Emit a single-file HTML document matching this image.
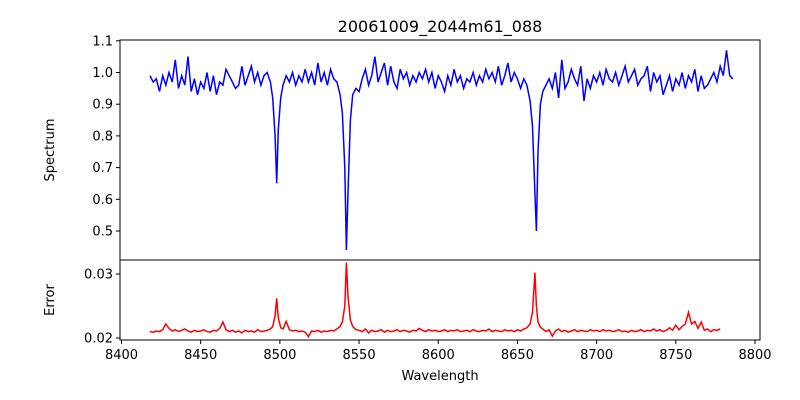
<!DOCTYPE html>
<html><head><meta charset="utf-8"><style>
body{margin:0;background:#fff}
svg{display:block;font-family:"DejaVu Sans","Liberation Sans",sans-serif}
</style></head><body>
<svg id="chart" width="800" height="400" xmlns="http://www.w3.org/2000/svg">
<rect width="800" height="400" fill="#fff"/>
<text x="440" y="32" font-size="16" text-anchor="middle">20061009_2044m61_088</text>
<g id="topPanel"></g>
<g id="botPanel"></g>
<text transform="translate(54,150) rotate(-90)" font-size="13" text-anchor="middle">Spectrum</text>
<text transform="translate(54,300) rotate(-90)" font-size="13" text-anchor="middle">Error</text>
<text x="440" y="380" font-size="13" text-anchor="middle">Wavelength</text>
</svg>
<script>
const wavelengths=[8418,8420,8422,8424,8426,8428,8430,8432,8434,8436,8438,8440,8442,8444,8446,8448,8450,8452,8454,8456,8458,8460,8462,8464,8466,8468,8470,8472,8474,8476,8478,8480,8482,8484,8486,8488,8490,8492,8494,8495.5,8497,8498,8499,8500.5,8502,8504,8506,8508,8510,8512,8514,8516,8518,8520,8522,8524,8526,8528,8530,8532,8534,8536,8538,8539.5,8541,8542,8543,8544.5,8546,8548,8550,8552,8554,8556,8558,8560,8562,8564,8566,8568,8570,8572,8574,8576,8578,8580,8582,8584,8586,8588,8590,8592,8594,8596,8598,8600,8602,8604,8606,8608,8610,8612,8614,8616,8618,8620,8622,8624,8626,8628,8630,8632,8634,8636,8638,8640,8642,8644,8646,8648,8650,8652,8654,8656,8658,8659.5,8661,8662,8663,8664.5,8666,8668,8670,8672,8674,8676,8678,8680,8682,8684,8686,8688,8690,8692,8694,8696,8698,8700,8702,8704,8706,8708,8710,8712,8714,8716,8718,8720,8722,8724,8726,8728,8730,8732,8734,8736,8738,8740,8742,8744,8746,8748,8750,8752,8754,8756,8758,8760,8762,8764,8766,8768,8770,8772,8774,8776,8778,8780,8782,8784,8786];
const flux=[0.99,0.97,0.98,0.94,0.99,0.96,1.00,0.97,1.04,0.95,0.99,0.96,1.05,0.94,0.98,0.93,0.97,0.95,1.00,0.94,0.99,0.93,0.97,0.96,1.01,0.99,0.97,0.95,0.96,1.02,0.96,0.99,1.02,0.97,1.00,0.96,0.99,1.00,0.97,0.92,0.80,0.65,0.82,0.92,0.96,0.99,0.97,1.00,0.96,0.99,0.97,1.01,0.97,1.00,0.96,1.03,0.97,1.00,0.96,1.01,0.98,0.97,0.93,0.87,0.70,0.44,0.62,0.85,0.93,0.95,0.94,0.98,1.01,0.96,0.99,1.05,0.97,1.00,1.03,0.96,1.02,0.97,0.95,1.01,0.98,1.00,0.96,0.99,0.97,1.00,0.98,1.01,0.97,1.00,0.95,0.99,0.97,0.94,0.99,0.96,1.01,0.97,0.99,0.95,0.98,0.97,1.00,0.96,0.99,0.97,1.01,0.98,1.00,0.97,1.02,0.96,0.99,1.03,0.97,1.00,0.98,0.95,0.98,0.96,0.91,0.83,0.62,0.50,0.75,0.90,0.94,0.96,0.98,0.95,1.00,0.92,1.04,0.95,0.97,1.01,0.98,0.96,1.02,0.91,0.98,0.95,0.99,0.97,1.00,0.96,1.01,0.98,0.97,1.00,0.96,0.99,1.02,0.97,0.99,1.01,0.96,0.98,0.99,1.02,0.94,1.00,0.97,0.99,0.93,0.96,0.99,0.94,0.98,0.96,1.00,0.95,0.99,0.97,1.01,0.94,0.99,0.95,0.96,0.98,1.00,0.97,1.02,0.99,1.07,0.99,0.98];
const errors=[0.0210,0.0209,0.0211,0.0210,0.0213,0.0222,0.0215,0.0211,0.0213,0.0210,0.0212,0.0214,0.0211,0.0209,0.0212,0.0210,0.0211,0.0213,0.0210,0.0209,0.0212,0.0211,0.0215,0.0225,0.0213,0.0210,0.0212,0.0209,0.0211,0.0208,0.0212,0.0210,0.0211,0.0209,0.0213,0.0210,0.0211,0.0212,0.0214,0.0218,0.0235,0.0262,0.0232,0.0216,0.0214,0.0226,0.0213,0.0211,0.0212,0.0210,0.0211,0.0209,0.0202,0.0211,0.0210,0.0212,0.0209,0.0211,0.0210,0.0212,0.0211,0.0214,0.0218,0.0225,0.0250,0.0318,0.0265,0.0228,0.0218,0.0213,0.0212,0.0210,0.0214,0.0208,0.0212,0.0210,0.0211,0.0213,0.0209,0.0212,0.0210,0.0211,0.0213,0.0210,0.0212,0.0211,0.0209,0.0212,0.0211,0.0215,0.0212,0.0210,0.0213,0.0211,0.0212,0.0210,0.0211,0.0213,0.0210,0.0212,0.0211,0.0213,0.0210,0.0211,0.0212,0.0210,0.0213,0.0211,0.0210,0.0212,0.0211,0.0214,0.0210,0.0212,0.0211,0.0210,0.0213,0.0211,0.0212,0.0210,0.0213,0.0211,0.0214,0.0216,0.0222,0.0240,0.0302,0.0250,0.0225,0.0217,0.0214,0.0210,0.0213,0.0203,0.0211,0.0214,0.0210,0.0212,0.0209,0.0211,0.0213,0.0210,0.0212,0.0211,0.0210,0.0213,0.0211,0.0212,0.0210,0.0213,0.0211,0.0212,0.0210,0.0211,0.0213,0.0210,0.0211,0.0209,0.0212,0.0210,0.0211,0.0213,0.0210,0.0212,0.0211,0.0214,0.0211,0.0213,0.0210,0.0212,0.0216,0.0212,0.0220,0.0213,0.0218,0.0222,0.0240,0.0222,0.0226,0.0215,0.0225,0.0212,0.0214,0.0210,0.0213,0.0212,0.0214];
const xTicks=[8400,8450,8500,8550,8600,8650,8700,8750,8800];
const fluxTicks=[0.5,0.6,0.7,0.8,0.9,1.0,1.1];
const errTicks=[0.02,0.03];

const NS='http://www.w3.org/2000/svg';
const L=120,R=760,T1=40,B1=260,T2=260,B2=340;
const xs=v=>121.5+(v-8400)*(755-121.5)/400;
const ys1=v=>231+(0.5-v)*317;
const ys2=v=>338-(v-0.02)*6400;
function mk(tag,attrs,parent){const e=document.createElementNS(NS,tag);for(const k in attrs)e.setAttribute(k,attrs[k]);parent.appendChild(e);return e;}
const topG=document.getElementById('topPanel'),botG=document.getElementById('botPanel');
function pts(ys,vals){const n=Math.min(wavelengths.length,vals.length);const a=[];for(let i=0;i<n;i++)a.push(xs(wavelengths[i]).toFixed(1)+','+ys(vals[i]).toFixed(1));return a.join(' ');}

let p=mk('polyline',{points:pts(ys1,flux),fill:'none',stroke:'#0000ff','stroke-width':1.5},topG);


p=mk('polyline',{points:pts(ys2,errors),fill:'none',stroke:'#ff0000','stroke-width':1.5},botG);



let f=mk('rect',{x:L,y:T1,width:R-L,height:B1-T1,fill:'none',stroke:'#000','stroke-width':1},topG);


f=mk('rect',{x:L,y:T2,width:R-L,height:B2-T2,fill:'none',stroke:'#000','stroke-width':1},botG);



fluxTicks.forEach(t=>{const y=ys1(t);
 const l=mk('line',{x1:L-4,x2:L,y1:y,y2:y,stroke:'#000'},topG);
 
 
 const tx=mk('text',{x:L-7,y:y+4.5,'font-size':13,'text-anchor':'end'},topG);tx.textContent=t.toFixed(1);
 
 });
errTicks.forEach(t=>{const y=ys2(t);
 const l=mk('line',{x1:L-4,x2:L,y1:y,y2:y,stroke:'#000'},botG);
 
 
 const tx=mk('text',{x:L-7,y:y+4.5,'font-size':13,'text-anchor':'end'},botG);tx.textContent=t.toFixed(2);
 
 });
xTicks.forEach(t=>{const x=xs(t);
 const l=mk('line',{x1:x,x2:x,y1:B2,y2:B2+4,stroke:'#000'},botG);
 
 
 const tx=mk('text',{x:x,y:B2+19,'font-size':13,'text-anchor':'middle'},botG);tx.textContent=t;
 
 });
</script>
</body></html>
